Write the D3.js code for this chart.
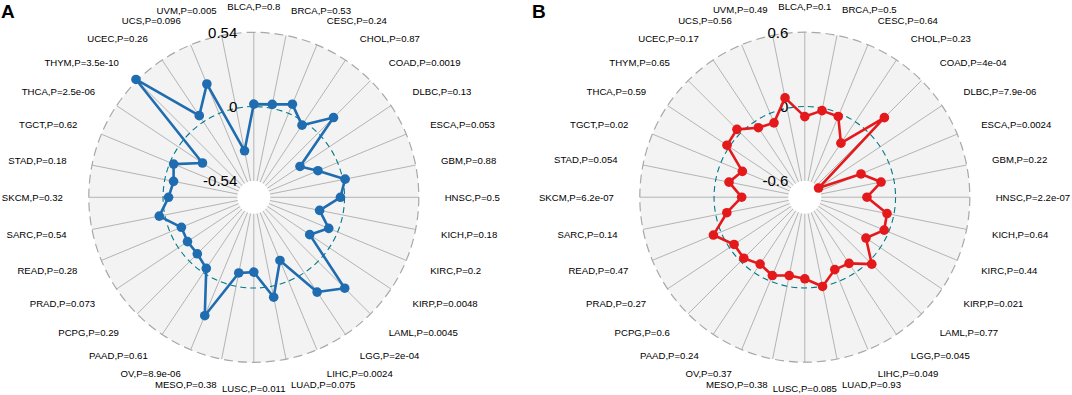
<!DOCTYPE html>
<html lang="en">
    <head>
        <meta charset="utf-8">
        <title>Radar charts A and B</title>
        <script type="text/javascript" src="https://cdn.jsdelivr.net/npm/d3@7"></script>
        <style type="text/css">
            body { margin: 0; background: #fff; }
            svg { display: block; font-family: "Liberation Sans", Arial, sans-serif; }
        </style>
    </head>

    <body>
        <script type="text/javascript">
            // Cancer types, clockwise from the top
            var cancers = ["BLCA", "BRCA", "CESC", "CHOL", "COAD", "DLBC", "ESCA", "GBM",
                           "HNSC", "KICH", "KIRC", "KIRP", "LAML", "LGG", "LIHC", "LUAD",
                           "LUSC", "MESO", "OV", "PAAD", "PCPG", "PRAD", "READ", "SARC",
                           "SKCM", "STAD", "TGCT", "THCA", "THYM", "UCEC", "UCS", "UVM"];

            // Panel A
            var valuesA = [0.018, 0.029, 0.073, -0.029, 0.16, -0.256, -0.155, 0.017,
                           -0.030, -0.172, -0.07, -0.171, 0.275, 0.169, -0.163, 0.081,
                           -0.116, -0.099, 0.272, -0.038, -0.079, -0.08, -0.09, 0.041,
                           -0.04, -0.065, -0.029, -0.211, 0.552, 0.054, 0.232, -0.315];
            var pA = ["0.8", "0.53", "0.24", "0.87", "0.0019", "0.13", "0.053", "0.88",
                      "0.5", "0.18", "0.2", "0.0048", "0.0045", "2e-04", "0.0024", "0.075",
                      "0.011", "0.38", "8.9e-06", "0.61", "0.29", "0.073", "0.28", "0.54",
                      "0.32", "0.18", "0.62", "2.5e-06", "3.5e-10", "0.26", "0.096", "0.005"];
            var ticksA = [-0.54, 0, 0.54];
            var tickLabelsA = ["-0.54", "0", "0.54"];

            // Panel B
            var valuesB = [-0.082, -0.02, -0.027, -0.208, 0.176, -0.6, -0.242, -0.105,
                           -0.231, -0.056, -0.039, -0.139, 0.032, -0.09, -0.1, 0.002,
                           -0.074, -0.088, -0.048, -0.083, -0.036, -0.046, 0.066, -0.091,
                           -0.223, -0.109, -0.187, 0.023, 0.042, -0.058, -0.083, 0.085];
            var pB = ["0.1", "0.5", "0.64", "0.23", "4e-04", "7.9e-06", "0.0024", "0.22",
                      "2.2e-07", "0.64", "0.44", "0.021", "0.77", "0.045", "0.049", "0.93",
                      "0.085", "0.38", "0.37", "0.24", "0.6", "0.27", "0.47", "0.14",
                      "6.2e-07", "0.054", "0.02", "0.59", "0.65", "0.17", "0.56", "0.49"];
            var ticksB = [-0.6, 0, 0.6];
            var tickLabelsB = ["-0.6", "0", "0.6"];

            var w = 1072;
            var h = 395;
            var R = 165;

            var svg = d3.select("body")
                        .append("svg")
                        .attr("width", w)
                        .attr("height", h);

            // angle of each spoke, 0 at 12 o'clock going clockwise
            var angle = d3.scaleLinear()
                          .domain([0, cancers.length])
                          .range([0, 2 * Math.PI]);

            function drawRadar(cx, cy, values, pvals, ticks, tickLabels, colour, letter, letterX) {
                var gmin = ticks[0], gmax = ticks[2];
                // like ggradar: centre sits 1/9 of the range below the minimum
                var centre = gmin - (gmax - gmin) / 9;
                var rScale = d3.scaleLinear()
                               .domain([centre, gmax])
                               .range([0, R]);

                var g = svg.append("g")
                           .attr("transform", "translate(" + cx + "," + cy + ")");

                g.append("circle")
                    .attr("r", R)
                    .attr("fill", "#f3f3f3");

                // spokes
                g.selectAll("line.spoke")
                    .data(cancers)
                    .enter()
                    .append("line")
                    .attr("class", "spoke")
                    .attr("x1", 0)
                    .attr("y1", 0)
                    .attr("x2", function(d, i) { return R * Math.sin(angle(i)); })
                    .attr("y2", function(d, i) { return -R * Math.cos(angle(i)); })
                    .attr("stroke", "#b4b4b4")
                    .attr("stroke-width", 1);

                // inner hole
                g.append("circle")
                    .attr("r", rScale(gmin))
                    .attr("fill", "#ffffff");

                // middle gridline (0)
                g.append("circle")
                    .attr("r", rScale(ticks[1]))
                    .attr("fill", "none")
                    .attr("stroke", "#007A87")
                    .attr("stroke-width", 1.1)
                    .attr("stroke-dasharray", "6,4");

                // outer gridline
                g.append("circle")
                    .attr("r", rScale(gmax))
                    .attr("fill", "none")
                    .attr("stroke", "#a8a8a8")
                    .attr("stroke-width", 1.2)
                    .attr("stroke-dasharray", "9,5");

                // grid labels
                g.selectAll("text.tick")
                    .data(ticks)
                    .enter()
                    .append("text")
                    .attr("class", "tick")
                    .attr("x", -R * 0.1)
                    .attr("y", function(d) { return -rScale(d); })
                    .attr("dy", "0.36em")
                    .attr("text-anchor", "end")
                    .attr("font-size", "15px")
                    .attr("fill", "#000")
                    .text(function(d, i) { return tickLabels[i]; });

                // axis labels
                var labR = R * 1.157;
                g.selectAll("text.axlab")
                    .data(cancers)
                    .enter()
                    .append("text")
                    .attr("class", "axlab")
                    .attr("x", function(d, i) { return labR * Math.sin(angle(i)); })
                    .attr("y", function(d, i) { return -labR * Math.cos(angle(i)); })
                    .attr("dy", "0.36em")
                    .attr("text-anchor", function(d, i) {
                        var s = Math.sin(angle(i));
                        if (Math.abs(s) < 0.02) return "middle";
                        return s > 0 ? "start" : "end";
                    })
                    .attr("font-size", "9.6px")
                    .attr("fill", "#000")
                    .text(function(d, i) { return d + ",P=" + pvals[i]; });

                // series line
                var line = d3.lineRadial()
                             .angle(function(d, i) { return angle(i); })
                             .radius(function(d) { return rScale(d); })
                             .curve(d3.curveLinearClosed);

                g.append("path")
                    .datum(values)
                    .attr("d", line)
                    .attr("fill", "none")
                    .attr("stroke", colour)
                    .attr("stroke-width", 2.6)
                    .attr("stroke-linejoin", "round");

                g.selectAll("circle.pt")
                    .data(values)
                    .enter()
                    .append("circle")
                    .attr("class", "pt")
                    .attr("cx", function(d, i) { return rScale(d) * Math.sin(angle(i)); })
                    .attr("cy", function(d, i) { return -rScale(d) * Math.cos(angle(i)); })
                    .attr("r", 4.8)
                    .attr("fill", colour);

                // panel letter
                svg.append("text")
                    .attr("x", letterX)
                    .attr("y", 18)
                    .attr("font-size", "19px")
                    .attr("font-weight", "bold")
                    .attr("fill", "#000")
                    .text(letter);
            }

            drawRadar(253.8, 197.3, valuesA, pA, ticksA, tickLabelsA, "#1f6cb0", "A", 1);
            drawRadar(804.8, 197.2, valuesB, pB, ticksB, tickLabelsB, "#e3191c", "B", 532);
        </script>
    </body>
</html>
